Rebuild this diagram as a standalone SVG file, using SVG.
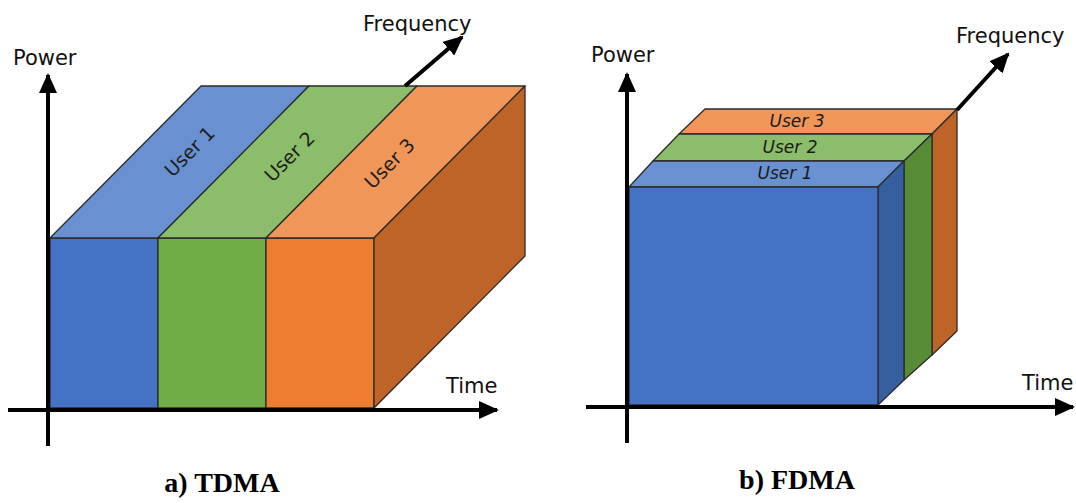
<svg xmlns="http://www.w3.org/2000/svg" width="1076" height="503" viewBox="0 0 1076 503">
  <style>
    .face { stroke: #2b2b2b; stroke-width: 1.3; stroke-linejoin: round; }
    .b-front { fill: #4472C4; }
    .b-top { fill: #6990D0; }
    .b-side { fill: #365FA0; }
    .g-front { fill: #70AD47; }
    .g-top { fill: #8BBD6B; }
    .g-side { fill: #588B35; }
    .o-front { fill: #ED7D31; }
    .o-top { fill: #F09659; }
    .o-side { fill: #BE6428; }
    .axis { stroke: #000; stroke-width: 4; fill: none; }
    .axis-label { font-family: "DejaVu Sans", "Noto Sans", sans-serif; font-size: 21px; fill: #111; }
    .slot-label { font-family: "DejaVu Sans", "Noto Sans", sans-serif; font-size: 19px; fill: #1e1e1e; text-anchor: middle; }
    .band-label { font-family: "DejaVu Sans", "Noto Sans", sans-serif; font-size: 17px; font-style: italic; fill: #1a1a1a; text-anchor: middle; }
    .caption { font-family: "Liberation Serif", "Times New Roman", serif; font-size: 28px; font-weight: bold; fill: #000; text-anchor: middle; }
  </style>
  <defs>
    <marker id="arrow" markerUnits="userSpaceOnUse" markerWidth="20" markerHeight="18" viewBox="0 0 20 18" refX="18" refY="9" orient="auto">
      <path d="M0,0 L20,9 L0,18 Z" fill="#000"/>
    </marker>
  </defs>

  <rect width="1076" height="503" fill="#fff"/>

  <!-- a) TDMA: time slots side by side, each spanning the whole band -->
  <g id="tdma-user1">
    <rect class="face b-front" x="50" y="238" width="108" height="170"/>
    <polygon class="face b-top" points="50,238 158,238 309,86 201,86"/>
    <text class="slot-label" transform="translate(190,152) rotate(-45)" dy="6">User 1</text>
  </g>
  <g id="tdma-user2">
    <rect class="face g-front" x="158" y="238" width="108" height="170"/>
    <polygon class="face g-top" points="158,238 266,238 417,86 309,86"/>
    <text class="slot-label" transform="translate(290,157) rotate(-45)" dy="6">User 2</text>
  </g>
  <g id="tdma-user3">
    <rect class="face o-front" x="266" y="238" width="108" height="170"/>
    <polygon class="face o-top" points="266,238 374,238 525,86 417,86"/>
    <polygon class="face o-side" points="374,238 525,86 525,256 374,408"/>
    <text class="slot-label" transform="translate(390,164) rotate(-45)" dy="6">User 3</text>
  </g>

  <!-- b) FDMA: frequency bands stacked back to front, each spanning all time -->
  <g id="fdma-user3">
    <polygon class="face o-top" points="679,134 932,134 957,109 705,109"/>
    <polygon class="face o-side" points="932,134 957,109 957,331 932,355"/>
    <text class="band-label" x="797" y="127">User 3</text>
  </g>
  <g id="fdma-user2">
    <polygon class="face g-top" points="653,161 904,161 932,134 679,134"/>
    <polygon class="face g-side" points="904,161 932,134 932,355 904,380"/>
    <text class="band-label" x="790" y="153">User 2</text>
  </g>
  <g id="fdma-user1">
    <polygon class="face b-top" points="629,187 878,187 904,161 653,161"/>
    <polygon class="face b-side" points="878,187 904,161 904,380 878,405"/>
    <rect class="face b-front" x="629" y="187" width="249" height="218"/>
    <text class="band-label" x="785" y="179">User 1</text>
  </g>

  <!-- axes -->
  <g id="connectors">
    <line class="axis" x1="48" y1="446" x2="48" y2="75" marker-end="url(#arrow)"/>
    <line class="axis" x1="8" y1="410" x2="497" y2="410" marker-end="url(#arrow)"/>
    <line class="axis" x1="405" y1="86" x2="462" y2="37" marker-end="url(#arrow)"/>
    <line class="axis" x1="627" y1="443" x2="627" y2="74" marker-end="url(#arrow)"/>
    <line class="axis" x1="586" y1="407" x2="1073" y2="407" marker-end="url(#arrow)"/>
    <line class="axis" x1="957" y1="110" x2="1008" y2="54" marker-end="url(#arrow)"/>
  </g>

  <g id="labels">
    <text class="axis-label" x="13" y="65">Power</text>
    <text class="axis-label" x="363" y="31">Frequency</text>
    <text class="axis-label" x="446" y="393" font-size="20">Time</text>
    <text class="axis-label" x="591" y="62">Power</text>
    <text class="axis-label" x="956" y="43">Frequency</text>
    <text class="axis-label" x="1022" y="390" font-size="20">Time</text>
    <text class="caption" x="222" y="492">a) TDMA</text>
    <text class="caption" x="797" y="489">b) FDMA</text>
  </g>
</svg>
